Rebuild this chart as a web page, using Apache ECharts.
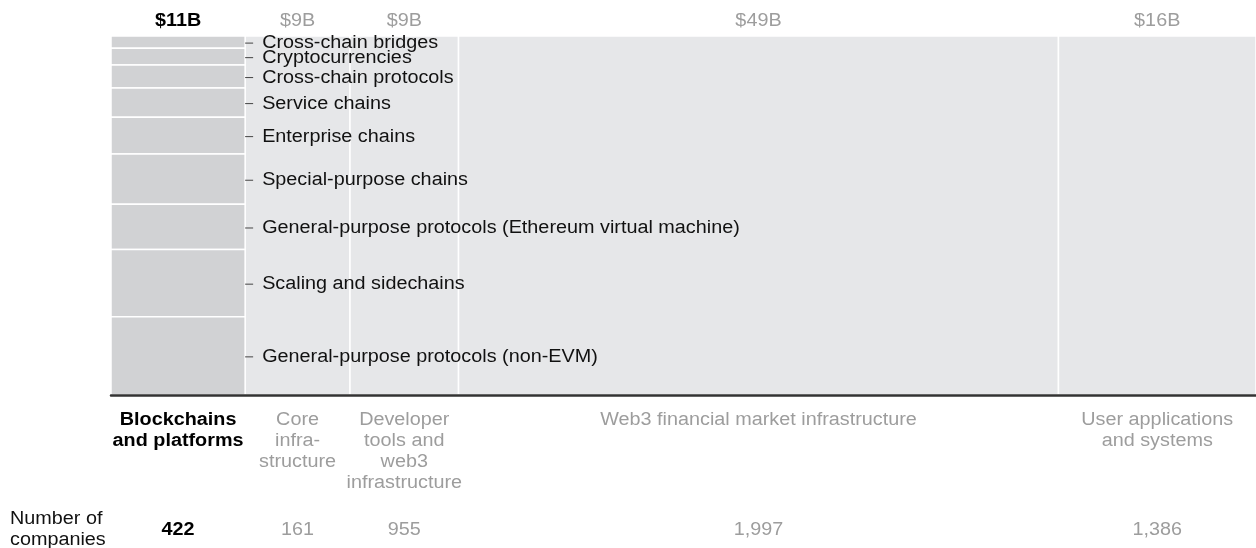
<!DOCTYPE html>
<html>
<head>
<meta charset="utf-8">
<script src="https://cdn.jsdelivr.net/npm/echarts@6/dist/echarts.min.js"></script>
<style>
html, body { margin: 0; padding: 0; background: #fff; }
#main { width: 1256px; height: 548px; }
</style>
</head>
<body>
<div id="main"></div>
<script>
// columns (width = investment, $B)
var categories = ['Blockchains\nand platforms', 'Core\ninfra-\nstructure', 'Developer\ntools and\nweb3\ninfrastructure', 'Web3 financial market infrastructure', 'User applications\nand systems'];
var investment = [11.0, 8.6, 8.9, 49.2, 16.2];
var investmentLabels = ['$11B', '$9B', '$9B', '$49B', '$16B'];
var companies = [422, 161, 955, 1997, 1386];

// breakdown of the first column, top to bottom (% of column)
var segments = ['Cross-chain bridges', 'Cryptocurrencies', 'Cross-chain protocols', 'Service chains', 'Enterprise chains', 'Special-purpose chains', 'General-purpose protocols (Ethereum virtual machine)', 'Scaling and sidechains', 'General-purpose protocols (non-EVM)'];
var segmentShare = [3.4, 4.7, 6.4, 8.1, 10.3, 14.0, 12.6, 18.7, 21.8];

var FONT = '"Liberation Sans", Arial, Helvetica, sans-serif';
var FS = 18;
var SX = 1.1; // text in the source is a little wider than Arial

var colData = [];
var acc = 0;
investment.forEach(function (v, i) {
	colData.push([acc, acc + v, i]);
	acc += v;
});
var total = acc;

var segData = [];
var s = 0;
segmentShare.forEach(function (v, i) {
	segData.push([0, investment[0], s, s + v, i]);
	s += v;
});

function txt(x, y, style) {
	return { type: 'text', x: x, y: y, scaleX: SX, style: style };
}

function renderColumn(params, api) {
	var i = api.value(2);
	var tl = api.coord([api.value(0), 0]);
	var br = api.coord([api.value(1), 100]);
	var cx = (tl[0] + br[0]) / 2;
	var hi = i === 0;
	var color = hi ? '#000' : '#9d9d9d';
	var font = (hi ? 'bold ' : '') + FS + 'px ' + FONT;
	return {
		type: 'group',
		children: [
			{
				type: 'rect',
				shape: { x: tl[0], y: tl[1], width: br[0] - tl[0], height: br[1] - tl[1] },
				style: { fill: hi ? '#d1d2d4' : '#e6e7e9', stroke: '#fff', lineWidth: 1.5 }
			},
			txt(cx, tl[1] - 15, { text: investmentLabels[i], fill: color, font: font, align: 'center', verticalAlign: 'middle' }),
			txt(cx, br[1] + 15, { text: categories[i], fill: color, font: font, lineHeight: 21, align: 'center', verticalAlign: 'top' }),
			txt(cx, br[1] + 135, { text: companies[i].toLocaleString('en-US'), fill: color, font: font, align: 'center', verticalAlign: 'middle' })
		]
	};
}

function renderSegment(params, api) {
	var i = api.value(4);
	var tl = api.coord([api.value(0), api.value(2)]);
	var br = api.coord([api.value(1), api.value(3)]);
	var my = (tl[1] + br[1]) / 2 + 1;
	return {
		type: 'group',
		children: [
			{
				type: 'rect',
				shape: { x: tl[0], y: tl[1], width: br[0] - tl[0], height: br[1] - tl[1] },
				style: { fill: '#d1d2d4', stroke: '#fff', lineWidth: 1.5 }
			},
			{
				type: 'line',
				shape: { x1: br[0], y1: my, x2: br[0] + 8, y2: my },
				style: { stroke: '#444', lineWidth: 1 }
			},
			txt(br[0] + 17, my, { text: segments[i], fill: '#111', font: FS + 'px ' + FONT, align: 'left', verticalAlign: 'middle' })
		]
	};
}

var myChart = echarts.init(document.getElementById('main'));
var option = {
	animation: false,
	grid: { left: 111, right: 0, top: 36, bottom: 153 },
	xAxis: {
		type: 'value', min: 0, max: total, z: 5,
		axisLine: { show: true, onZero: false, lineStyle: { color: '#333', width: 2.5 } },
		axisTick: { show: false }, axisLabel: { show: false }, splitLine: { show: false }
	},
	yAxis: { type: 'value', min: 0, max: 100, inverse: true, show: false },
	graphic: [{
		type: 'text', left: 10, top: 509, scaleX: SX,
		style: { text: 'Number of\ncompanies', fill: '#111', font: FS + 'px ' + FONT, lineHeight: 21 }
	}],
	series: [
		{ type: 'custom', renderItem: renderColumn, data: colData, clip: false },
		{ type: 'custom', renderItem: renderSegment, data: segData, clip: false }
	]
};
myChart.setOption(option);
</script>
</body>
</html>
